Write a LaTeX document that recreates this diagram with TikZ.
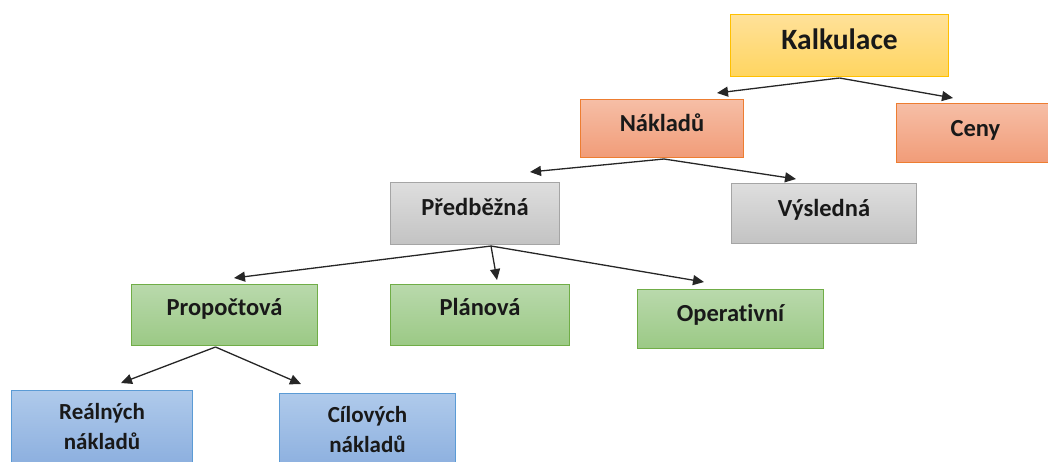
\documentclass[tikz,border=0pt]{standalone}
\usepackage{fontspec}
\setmainfont{Carlito}[Ligatures=NoCommon]
\usetikzlibrary{calc,arrows.meta}
\definecolor{ybord}{HTML}{FFC000}
\definecolor{ytop}{HTML}{FFE199}
\definecolor{ybot}{HTML}{FFD560}
\definecolor{obord}{HTML}{ED7D31}
\definecolor{otop}{HTML}{F6BEA6}
\definecolor{obot}{HTML}{F19C78}
\definecolor{gbord}{HTML}{A5A5A5}
\definecolor{gtop}{HTML}{DEDEDE}
\definecolor{gbot}{HTML}{C3C3C3}
\definecolor{grbord}{HTML}{70AD47}
\definecolor{grtop}{HTML}{B9D9AC}
\definecolor{grbot}{HTML}{9BC985}
\definecolor{bbord}{HTML}{5B9BD5}
\definecolor{btop}{HTML}{AFCAEB}
\definecolor{bbot}{HTML}{8DB0DF}
\tikzset{
  box/.style={draw, line width=1pt, anchor=north west, inner sep=0pt, align=center,
    font=\fontsize{24.5}{28}\selectfont\bfseries, text=black!90},
  ybox/.style={box, draw=ybord, top color=ytop, bottom color=ybot},
  obox/.style={box, draw=obord, top color=otop, bottom color=obot},
  gbox/.style={box, draw=gbord, top color=gtop, bottom color=gbot},
  grbox/.style={box, draw=grbord, top color=grtop, bottom color=grbot},
  bbox/.style={box, draw=bbord, top color=btop, bottom color=bbot,
    font=\fontsize{23}{30}\selectfont\bfseries},
  arr/.style={-{Triangle[length=11pt,width=10pt]}, line width=1.3pt, black!85}
}
\begin{document}
\begin{tikzpicture}[x=1pt,y=-1pt]
\useasboundingbox (0,0) rectangle (1048,461);
\begin{scope}
\clip (0,0) rectangle (1048,461);
\node[ybox, minimum width=218pt, minimum height=62pt, text height=20pt, text depth=12pt,
  font=\fontsize{29.5}{34}\selectfont\bfseries] (kal) at (730,14) {Kalkulace};
\node[obox, minimum width=163pt, minimum height=58pt, text height=17pt, text depth=11pt] (nak) at (580,99) {Nákladů};
\node[obox, minimum width=158pt, minimum height=59pt, text height=17pt, text depth=11pt] (cen) at (896,103) {Ceny};
\node[gbox, minimum width=169pt, minimum height=62pt, text height=17pt, text depth=13pt] (pre) at (390,182) {Předběžná};
\node[gbox, minimum width=185pt, minimum height=60pt, text height=17pt, text depth=11pt] (vys) at (731,183) {Výsledná};
\node[grbox, minimum width=186pt, minimum height=61pt, text height=17pt, text depth=17pt] (pro) at (131,284) {Propočtová};
\node[grbox, minimum width=179pt, minimum height=61pt, text height=17pt, text depth=17pt] (pla) at (390,284) {Plánová};
\node[grbox, minimum width=186pt, minimum height=59pt, text height=17pt, text depth=13pt] (ope) at (637,289) {Operativní};
\node[bbox, minimum width=181pt, minimum height=72pt] (rea) at (11,390) {Reálných\\nákladů};
\node[bbox, minimum width=176pt, minimum height=72pt] (cil) at (279,393) {Cílových\\nákladů};
\end{scope}
\coordinate (e1) at (717,93);
\coordinate (e2) at (953,98);
\coordinate (e3) at (530,172);
\coordinate (e4) at (796,179);
\coordinate (e5) at (234,278);
\coordinate (e6) at (497,280);
\coordinate (e7) at (704,282);
\coordinate (e8) at (121,383);
\coordinate (e9) at (301,384);
\draw[arr] ([xshift=0pt,yshift=-1pt]kal.south) -- (e1);
\draw[arr] ([xshift=0pt,yshift=-1pt]kal.south) -- (e2);
\draw[arr] ([xshift=2pt,yshift=-1pt]nak.south) -- (e3);
\draw[arr] ([xshift=2pt,yshift=-1pt]nak.south) -- (e4);
\draw[arr] ([xshift=16pt,yshift=-1pt]pre.south) -- (e5);
\draw[arr] ([xshift=16pt,yshift=-1pt]pre.south) -- (e6);
\draw[arr] ([xshift=16pt,yshift=-1pt]pre.south) -- (e7);
\draw[arr] ([xshift=-9pt,yshift=-1pt]pro.south) -- (e8);
\draw[arr] ([xshift=-9pt,yshift=-1pt]pro.south) -- (e9);
\end{tikzpicture}
\end{document}
